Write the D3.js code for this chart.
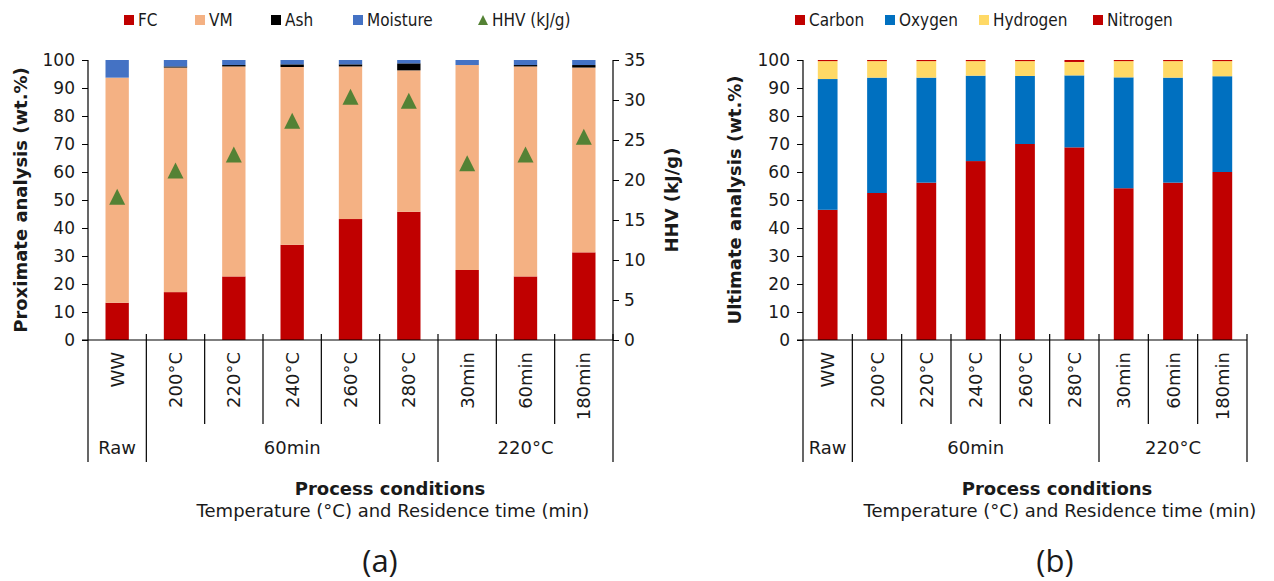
<!DOCTYPE html>
<html><head><meta charset="utf-8">
<script src="https://cdn.jsdelivr.net/npm/d3@7"></script>
<style>
body{margin:0;background:#fff;}
svg{display:block;}
text{fill:#1a1a1a;}
</style></head>
<body>
<svg id="c" width="1274" height="581"></svg>
<script>
// ---------- data ----------
const categories = ["WW","200°C","220°C","240°C","260°C","280°C","30min","60min","180min"];
const groupLabels = ["Raw","60min","220°C"];
const groupSpans = [[0,1],[1,6],[6,9]];

const proxKeys = ["FC","VM","Ash","Moisture"];
const FC       = [13.3,17.1,22.7,34.0,43.2,45.8,25.0,22.7,31.3];
const VM       = [80.4,80.2,75.0,63.5,54.5,50.5,73.2,75.0,66.0];
const Ash      = [0.0,0.4,0.5,0.95,0.75,2.5,0.0,0.5,0.9];
const Moisture = [6.3,2.3,1.8,1.55,1.55,1.2,1.8,1.8,1.8];
const HHV      = [17.9,21.2,23.2,27.4,30.4,29.9,22.1,23.2,25.4];

const ultKeys = ["Carbon","Oxygen","Hydrogen","Nitrogen"];
const Carbon   = [46.5,52.5,56.2,63.9,70.0,68.8,54.2,56.2,60.0];
const Oxygen   = [46.7,41.2,37.5,30.5,24.3,25.7,39.6,37.5,34.2];
const Hydrogen = [6.4,5.9,5.9,5.2,5.3,4.8,5.8,5.9,5.4];
const Nitrogen = [0.4,0.4,0.4,0.4,0.4,0.7,0.4,0.4,0.4];

const wtTicks  = [0,10,20,30,40,50,60,70,80,90,100];
const hhvTicks = [0,5,10,15,20,25,30,35];

const proxColors = {FC:"#C00000",VM:"#F4B183",Ash:"#000000",Moisture:"#4472C4"};
const hhvColor = "#548235";
const ultColors = {Carbon:"#C00000",Oxygen:"#0070C0",Hydrogen:"#FFD966",Nitrogen:"#C00000"};

const svg = d3.select("#c");
const AX = "DejaVu Sans";

function tableOf(keys, arrays){
  return categories.map((c,i)=>{const o={cat:c}; keys.forEach((k,j)=>o[k]=arrays[j][i]); return o;});
}

function drawPanel(opt){
  const g = svg.append("g");
  const xb = d3.scaleBand().domain(categories).range([opt.left,opt.right]);
  const y = d3.scaleLinear().domain([0,100]).range([opt.bottom,opt.top]);
  const bw = xb.bandwidth();
  const stack = d3.stack().keys(opt.keys)(opt.table);
  stack.forEach(s=>{
    g.selectAll(null).data(s).enter().append("rect")
      .attr("x",d=>xb(d.data.cat)+bw*0.3)
      .attr("width",bw*0.4)
      .attr("y",d=>y(d[1]))
      .attr("height",d=>Math.max(0,y(d[0])-y(d[1])))
      .attr("fill",opt.colors[s.key]);
  });
  const ya = g.append("g").attr("transform",`translate(${opt.left},0)`)
    .call(d3.axisLeft(y).tickValues(wtTicks).tickSize(6).tickPadding(7));
  ya.select(".domain").remove();
  ya.selectAll("line").attr("stroke","#000");
  ya.selectAll("text").attr("font-family",AX).attr("font-size",17).attr("fill","#1a1a1a");
  const lineBottom = opt.bottom + 122;
  const sepBottom = opt.bottom + 84;
  g.append("line").attr("x1",opt.left).attr("x2",opt.left).attr("y1",opt.top).attr("y2",lineBottom).attr("stroke","#000").attr("stroke-width",1.2);
  g.append("line").attr("x1",opt.left-6).attr("x2",opt.right).attr("y1",opt.bottom).attr("y2",opt.bottom).attr("stroke","#000").attr("stroke-width",1.2);
  const groupEdges = new Set(groupSpans.map(s=>s[1]));
  categories.forEach((c,i)=>{
    const xx = xb(c)+bw;
    const isG = groupEdges.has(i+1);
    g.append("line").attr("x1",xx).attr("x2",xx).attr("y1",opt.bottom-6).attr("y2",isG?lineBottom:sepBottom)
      .attr("stroke","#000").attr("stroke-width",1.2);
  });
  categories.forEach(c=>{
    const cx = xb(c)+bw/2;
    g.append("text").attr("transform",`translate(${cx+6.5},${opt.bottom+12}) rotate(-90)`)
      .attr("text-anchor","end").attr("font-family",AX).attr("font-size",18).text(c);
  });
  groupSpans.forEach((s,i)=>{
    const x0 = xb(categories[s[0]]), x1 = xb(categories[s[1]-1])+bw;
    g.append("text").attr("x",(x0+x1)/2).attr("y",opt.bottom+114).attr("text-anchor","middle")
      .attr("font-family",AX).attr("font-size",18).text(groupLabels[i]);
  });
  g.append("text").attr("transform",`translate(${opt.ylabX},${(opt.top+opt.bottom)/2}) rotate(-90)`)
    .attr("text-anchor","middle").attr("font-family",AX).attr("font-weight","bold").attr("font-size",18).text(opt.ylabel);
  const mid = opt.titleX;
  g.append("text").attr("x",mid).attr("y",495).attr("text-anchor","middle").attr("font-family",AX).attr("font-weight","bold").attr("font-size",18).text("Process conditions");
  g.append("text").attr("x",mid+3).attr("y",517).attr("text-anchor","middle").attr("font-family",AX).attr("font-size",18).text("Temperature (°C) and Residence time (min)");
  g.append("text").attr("x",opt.panelX).attr("y",572).attr("text-anchor","middle").attr("font-family","Open Sans").attr("font-size",31).text(opt.panel);
  return {g,xb,y};
}

// ---------- panel (a) ----------
const A = drawPanel({left:88,right:613,top:60,bottom:340,keys:proxKeys,table:tableOf(proxKeys,[FC,VM,Ash,Moisture]),
  colors:proxColors,ylabel:"Proximate analysis (wt.%)",ylabX:27,titleX:390,panel:"(a)",panelX:380});
const yH = d3.scaleLinear().domain([0,35]).range([340,60]);
const ra = A.g.append("g").attr("transform","translate(613,0)")
  .call(d3.axisRight(yH).tickValues(hhvTicks).tickSize(6).tickPadding(5));
ra.select(".domain").attr("stroke","#000").attr("stroke-width",1.2).attr("d","M0,60V340");
ra.selectAll("line").attr("stroke","#000");
ra.selectAll("text").attr("font-family",AX).attr("font-size",17).attr("fill","#1a1a1a");
A.g.append("text").attr("transform",`translate(678,200) rotate(-90)`).attr("text-anchor","middle")
  .attr("font-family",AX).attr("font-weight","bold").attr("font-size",18).text("HHV (kJ/g)");
const tri = (cx,cy,w,h)=>`M${cx},${cy-h/2}L${cx+w/2},${cy+h/2}L${cx-w/2},${cy+h/2}Z`;
A.g.selectAll(null).data(HHV).enter().append("path")
  .attr("d",(d,i)=>tri(A.xb(categories[i])+A.xb.bandwidth()/2, yH(d), 16, 16))
  .attr("fill",hhvColor);

// ---------- panel (b) ----------
drawPanel({left:803,right:1247,top:60,bottom:340,keys:ultKeys,table:tableOf(ultKeys,[Carbon,Oxygen,Hydrogen,Nitrogen]),
  colors:ultColors,ylabel:"Ultimate analysis (wt.%)",ylabX:741,titleX:1057,panel:"(b)",panelX:1055});

// ---------- legends ----------
const LF = "DejaVu Sans Condensed";
function legend(items, y){
  items.forEach(it=>{
    if(it.shape==="tri"){
      svg.append("path").attr("d",tri(it.x+5,y-1,10,10)).attr("fill",it.color);
    } else {
      svg.append("rect").attr("x",it.x).attr("y",y-6).attr("width",10).attr("height",10).attr("fill",it.color);
    }
    svg.append("text").attr("x",it.x+14).attr("y",y+5).attr("font-family",LF).attr("font-size",17).text(it.label);
  });
}
legend([
  {label:"FC",color:proxColors.FC,x:124},
  {label:"VM",color:proxColors.VM,x:195},
  {label:"Ash",color:proxColors.Ash,x:271},
  {label:"Moisture",color:proxColors.Moisture,x:353},
  {label:"HHV (kJ/g)",color:hhvColor,x:478,shape:"tri"}
],21);
legend([
  {label:"Carbon",color:ultColors.Carbon,x:795},
  {label:"Oxygen",color:ultColors.Oxygen,x:885},
  {label:"Hydrogen",color:ultColors.Hydrogen,x:979},
  {label:"Nitrogen",color:ultColors.Nitrogen,x:1093}
],21);
</script>
</body></html>
